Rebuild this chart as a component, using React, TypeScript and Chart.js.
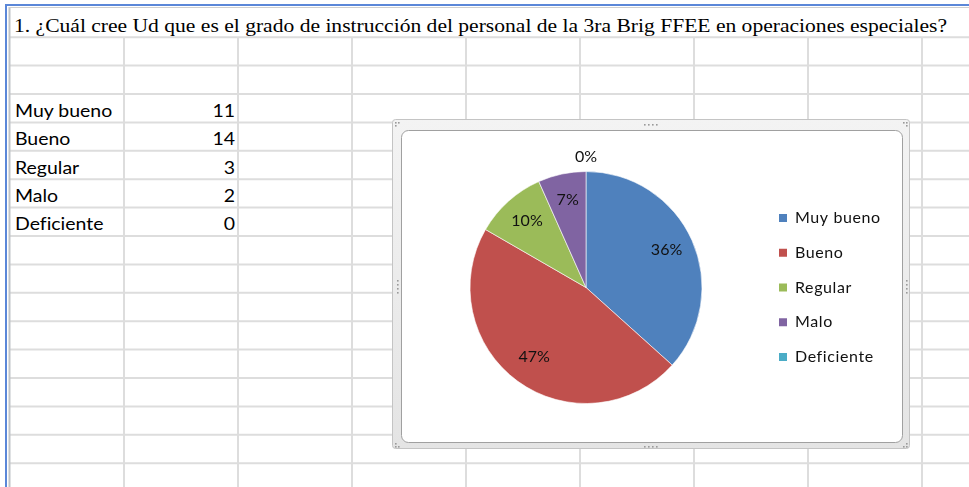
import React, { useEffect, useRef } from "react";
import { Chart, registerables } from "chart.js";
Chart.register(...registerables);

const titleText =
  "1. ¿Cuál cree Ud que es el grado de instrucción del personal de la 3ra Brig FFEE en operaciones especiales?";
const categories = ["Muy bueno", "Bueno", "Regular", "Malo", "Deficiente"];
const counts = [11, 14, 3, 2, 0];
// percentage labels as printed on the reference chart
const pctLabels = ["36%", "47%", "10%", "7%", "0%"];
const sliceColors = ["#4F81BD", "#C0504D", "#9BBB59", "#8064A2", "#4BACC6"];

const PAGE_W = 969;
const PAGE_H = 487;
const COLS = [124, 238, 352, 466, 580, 694, 808, 922];
const ROWS: number[] = [];
for (let y = 37.2; y < PAGE_H; y += 28.4) ROWS.push(y);

const CH_LEFT = 401;
const CH_TOP = 130;
const CH_W = 502;
const CH_H = 313;
const LEGEND_SPACING = "0.6px";

const pctPlugin = {
  id: "pctLabels",
  afterDatasetsDraw(chart: any) {
    const ctx = chart.ctx;
    const meta = chart.getDatasetMeta(0);
    const data = chart.data.datasets[0].data as number[];
    ctx.save();
    (ctx as any).letterSpacing = "0px";
    ctx.font = "16px Lato";
    ctx.fillStyle = "#111";
    ctx.textAlign = "center";
    ctx.textBaseline = "middle";
    meta.data.forEach((arc: any, i: number) => {
      const p = arc.getProps(["x", "y", "startAngle", "endAngle", "outerRadius"], true);
      const mid = (p.startAngle + p.endAngle) / 2;
      const v = data[i];
      const d = v > 0 ? p.outerRadius * 0.76 : p.outerRadius + 13;
      ctx.fillText(pctLabels[i], p.x + Math.cos(mid) * d, p.y + Math.sin(mid) * d - 1.5);
    });
    ctx.restore();
  },
};

const spacingPlugin = {
  id: "legendSpacing",
  beforeLayout(chart: any) {
    (chart.ctx as any).letterSpacing = LEGEND_SPACING;
  },
  beforeDraw(chart: any) {
    (chart.ctx as any).letterSpacing = LEGEND_SPACING;
  },
};

export default function App() {
  const ref = useRef<HTMLCanvasElement>(null);

  useEffect(() => {
    const canvas = ref.current!;
    const legendFont = 16;
    const boxW = 8;
    const legPad = 18.7;
    const mctx = document.createElement("canvas").getContext("2d")!;
    (mctx as any).letterSpacing = LEGEND_SPACING;
    mctx.font = `${legendFont}px Lato`;
    const textW = Math.max(...categories.map((c) => mctx.measureText(c).width));
    const targetBoxX = 378;
    const legendWidth = legPad + boxW + legendFont / 2 + textW + 10;
    const padR = CH_W - targetBoxX + legPad - legendWidth;
    const legendLeft = targetBoxX - legPad;
    const centerX = 185;
    const padL = 2 * centerX - legendLeft;
    const baseGen = (Chart as any).overrides.doughnut.plugins.legend.labels.generateLabels;
    const chart = new Chart(canvas, {
      type: "pie",
      data: {
        labels: categories,
        datasets: [
          {
            data: counts,
            backgroundColor: sliceColors,
            borderColor: "rgba(255,255,255,0.6)",
            borderWidth: 1,
            hoverOffset: 0,
          },
        ],
      },
      options: {
        responsive: false,
        animation: false,
        events: [],
        layout: { padding: { left: padL, right: padR, top: 41, bottom: 39 } },
        plugins: {
          legend: {
            position: "right",
            align: "center",
            labels: {
              boxWidth: boxW,
              boxHeight: boxW,
              padding: legPad,
              color: "#111",
              font: { family: "Lato", size: legendFont },
              generateLabels: (ch: any) =>
                baseGen(ch).map((l: any) => ({ ...l, lineWidth: 0, strokeStyle: "rgba(0,0,0,0)" })),
            },
          },
          tooltip: { enabled: false },
        },
      } as any,
      plugins: [spacingPlugin, pctPlugin],
    });
    return () => chart.destroy();
  }, []);

  const grid = "#DDDDDD";
  const rowTexts = categories.map((c, i) => ({ c, v: counts[i], y: 116.7 + i * 28.4 }));
  const dots = (pts: [number, number][]) =>
    pts.map(([x, y], i) => <rect key={i} x={x} y={y} width={1.6} height={1.6} fill="#9A9A9A" />);
  const cellFont = 16.5;
  const cellScale = 1.18;
  const noLig = { fontVariantLigatures: "none" as const };

  return (
    <div style={{ position: "absolute", left: 0, top: 0, width: PAGE_W, height: PAGE_H, background: "#fff", overflow: "hidden" }}>
      <svg width={PAGE_W} height={PAGE_H} style={{ position: "absolute", left: 0, top: 0 }}>
        <defs>
          <linearGradient id="frameGrad" x1="0" y1="0" x2="0" y2="1">
            <stop offset="0" stopColor="#F3F3F3" />
            <stop offset="1" stopColor="#E4E4E4" />
          </linearGradient>
        </defs>
        <rect width={PAGE_W} height={PAGE_H} fill="#fff" />
        {ROWS.map((y, i) => (
          <line key={"r" + i} x1={9} x2={PAGE_W} y1={y} y2={y} stroke={grid} strokeWidth={2} />
        ))}
        {COLS.map((x, i) => (
          <line key={"c" + i} x1={x} x2={x} y1={37} y2={PAGE_H} stroke={grid} strokeWidth={2} />
        ))}
        <line x1={9.5} x2={9.5} y1={7} y2={PAGE_H} stroke="#BFC3C7" strokeWidth={2} />
        <line x1={9} x2={PAGE_W} y1={7.5} y2={7.5} stroke="#CFCFCF" strokeWidth={1} />
        <line x1={5} x2={PAGE_W} y1={5} y2={5} stroke="#5B87D8" strokeWidth={2} />
        <line x1={6} x2={6} y1={4} y2={PAGE_H} stroke="#5B87D8" strokeWidth={2} />
        <text
          x={14}
          y={32}
          fontFamily="'Liberation Serif', serif"
          fontSize={19}
          fill="#000"
          textLength={933}
          lengthAdjust="spacingAndGlyphs"
        >
          {titleText}
        </text>
        {rowTexts.map((r, i) => (
          <g key={"t" + i}>
            <text
              transform={`translate(15 ${r.y}) scale(${cellScale} 1)`}
              fontFamily="Lato"
              fontSize={cellFont}
              fill="#000"
              style={noLig}
            >
              {r.c}
            </text>
            <text
              transform={`translate(235 ${r.y}) scale(${cellScale} 1)`}
              fontFamily="Lato"
              fontSize={cellFont}
              fill="#000"
              textAnchor="end"
            >
              {r.v}
            </text>
          </g>
        ))}
        <rect x={392.5} y={119.5} width={517} height={329} rx={3} fill="url(#frameGrad)" stroke="#C4C4C4" />
        <rect x={401.5} y={130.5} width={501} height={312} rx={7} fill="#fff" stroke="#A0A0A0" />
        {dots([[395, 122], [398, 122], [395, 125], [903, 122], [906, 122], [906, 125], [395, 446], [395, 443], [398, 446], [906, 446], [903, 446], [906, 443]])}
        {dots([[644, 124], [648, 124], [652, 124], [656, 124], [644, 446], [648, 446], [652, 446], [656, 446]])}
        {dots([[397, 280], [397, 284], [397, 288], [397, 292], [906, 280], [906, 284], [906, 288], [906, 292]])}
      </svg>
      <canvas
        ref={ref}
        width={CH_W}
        height={CH_H}
        style={{ position: "absolute", left: CH_LEFT, top: CH_TOP, width: CH_W, height: CH_H }}
      />
    </div>
  );
}
